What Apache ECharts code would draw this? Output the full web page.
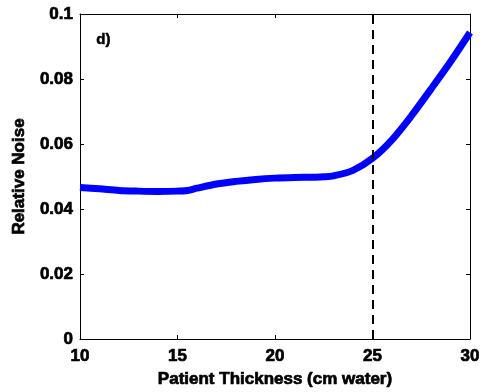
<!DOCTYPE html>
<html><head><meta charset="utf-8">
<script src="https://cdn.jsdelivr.net/npm/echarts@6/dist/echarts.min.js"></script>
<style>html,body{margin:0;padding:0;background:#fff}#c{width:486px;height:392px}</style>
</head><body><div id="c"></div>
<script>
const thickness = [10, 11, 12, 13, 14, 15, 15.5, 16, 17, 18, 19, 20, 21, 22, 22.5, 23, 24, 25, 26, 27, 28, 29, 30];
const relNoise = [0.0466, 0.0462, 0.0457, 0.0455, 0.0454, 0.0455, 0.0457, 0.0464, 0.0477, 0.0485, 0.0491, 0.0495, 0.0497, 0.0498, 0.0499, 0.0502, 0.0519, 0.0556, 0.0613, 0.0687, 0.0769, 0.0853, 0.0943];
const xTicks = [10, 15, 20, 25, 30];
const yTickLabels = ['0', '0.02', '0.04', '0.06', '0.08', '0.1'];
const cutoff = 25;
const panelLabel = 'd)';

const font = 'Liberation Sans, Arial, sans-serif';
const heavy = {textBorderColor: '#000', textBorderWidth: 0.7};
const chart = echarts.init(document.getElementById('c'));
const axisCommon = {
  axisLine: {show: true, onZero: false, lineStyle: {color: '#000', width: 1}},
  axisTick: {show: true, inside: true, length: 4, lineStyle: {color: '#000'}},
  splitLine: {show: false}
};
chart.setOption({
  animation: false,
  grid: {left: 80, right: 16, top: 14, bottom: 53, containLabel: false, outerBoundsMode: 'none'},
  graphic: [{type: 'text', left: 96, top: 32, style: {text: panelLabel, font: 'bold 15px ' + font, fill: '#000', stroke: '#000', lineWidth: 0.5}}],
  xAxis: [
    Object.assign({type: 'value', min: 10, max: 30, interval: 5, position: 'bottom',
      name: 'Patient Thickness (cm water)', nameLocation: 'middle', nameGap: 32,
      nameTextStyle: Object.assign({fontFamily: font, fontWeight: 'bold', fontSize: 17, color: '#000'}, heavy),
      axisLabel: Object.assign({fontFamily: font, fontWeight: 'bold', fontSize: 17, color: '#000', margin: 9,
        formatter: v => xTicks.includes(v) ? String(v) : ''}, heavy)}, axisCommon),
    Object.assign({type: 'value', min: 10, max: 30, interval: 5, position: 'top', axisLabel: {show: false}}, axisCommon)
  ],
  yAxis: [
    Object.assign({type: 'value', min: 0, max: 0.1, interval: 0.02, position: 'left',
      name: 'Relative Noise', nameLocation: 'middle', nameGap: 52,
      nameTextStyle: Object.assign({fontFamily: font, fontWeight: 'bold', fontSize: 17, color: '#000'}, heavy),
      axisLabel: Object.assign({fontFamily: font, fontWeight: 'bold', fontSize: 17, color: '#000', margin: 7,
        formatter: v => yTickLabels[Math.round(v / 0.02)] ?? ''}, heavy)}, axisCommon),
    Object.assign({type: 'value', min: 0, max: 0.1, interval: 0.02, position: 'right', axisLabel: {show: false}}, axisCommon)
  ],
  series: [{
    type: 'line', smooth: 0.3, symbol: 'none',
    data: thickness.map((t, i) => [t, relNoise[i]]),
    lineStyle: {color: '#0000ff', width: 7},
    markLine: {
      silent: true, symbol: 'none', label: {show: false},
      lineStyle: {color: '#000', type: [9, 6], width: 2},
      data: [{xAxis: cutoff}]
    }
  }]
});
</script></body></html>
